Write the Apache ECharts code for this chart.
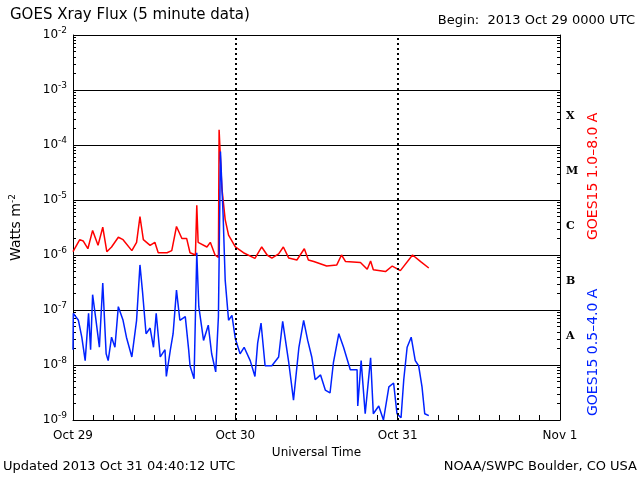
<!DOCTYPE html>
<html>
<head>
<meta charset="utf-8">
<script src="https://cdn.jsdelivr.net/npm/echarts@6/dist/echarts.min.js"></script>
<style>html,body{margin:0;padding:0;background:#fff}#chart{width:640px;height:480px}</style>
</head>
<body>
<div id="chart"></div>
<script>
// hours since 2013 Oct 29 00:00 UTC
var dayLabels = ["Oct 29", "Oct 30", "Oct 31", "Nov 1"];
var bandLetters = ["X", "M", "C", "B", "A"];

// GOES15 1.0-8.0 A (long channel)
var longHours = [0, 1, 1.5, 2.2, 2.9, 3.7, 4.4, 5, 5.7, 6.7, 7.4, 8.7, 9.4, 9.9, 10.4, 11.4, 12.1, 12.6, 13.9, 14.6, 15.3, 16.1, 16.8, 17.3, 18.1, 18.3, 18.5, 19.8, 20.3, 21, 21.5, 21.6, 22, 22.5, 23, 24, 25.2, 26.9, 27.9, 28.7, 29.4, 30.4, 31.1, 31.9, 33.1, 34.2, 34.8, 35.6, 37.5, 39, 39.7, 40.3, 42.5, 43.5, 44, 44.4, 46.2, 47.2, 48.4, 50.2, 51.4, 52.6];
var longFlux = [1.15e-6, 1.9e-6, 1.8e-6, 1.3e-6, 2.8e-6, 1.5e-6, 3.2e-6, 1.15e-6, 1.4e-6, 2.1e-6, 1.9e-6, 1.2e-6, 1.7e-6, 5e-6, 1.9e-6, 1.5e-6, 1.7e-6, 1.1e-6, 1.1e-6, 1.2e-6, 3.3e-6, 2e-6, 2e-6, 1.1e-6, 1e-6, 8e-6, 1.7e-6, 1.4e-6, 1.7e-6, 1e-6, 9e-7, 1.9e-4, 1.7e-5, 4.4e-6, 2.3e-6, 1.4e-6, 1.1e-6, 8.7e-7, 1.4e-6, 1e-6, 8.8e-7, 1.05e-6, 1.4e-6, 8.8e-7, 8.1e-7, 1.3e-6, 8.1e-7, 7.6e-7, 6.3e-7, 6.6e-7, 1e-6, 7.6e-7, 7.3e-7, 5.5e-7, 7.8e-7, 5.4e-7, 5e-7, 6.3e-7, 5.2e-7, 1e-6, 7.6e-7, 5.8e-7];

// GOES15 0.5-4.0 A (short channel)
var shortHours = [0, 0.05, 0.8, 1.3, 1.8, 2.3, 2.6, 2.9, 3.4, 3.9, 4.4, 4.9, 5.2, 5.7, 6.2, 6.7, 7.4, 7.9, 8.7, 9.4, 9.9, 10.3, 10.8, 11.4, 11.9, 12.3, 12.9, 13.6, 13.8, 14.4, 14.8, 15.3, 15.8, 16.6, 17.1, 17.3, 17.9, 18.3, 18.6, 19.3, 20, 20.5, 21.1, 21.5, 21.8, 22.2, 22.5, 23, 23.5, 24, 24.7, 25.3, 26.2, 26.9, 27.3, 27.8, 28.4, 29.4, 30.4, 31, 31.9, 32.6, 33.4, 34.1, 34.7, 35.3, 35.8, 36.6, 37.3, 38, 38.5, 39.3, 40, 41, 42, 42.1, 42.6, 43.2, 44, 44.4, 45.2, 45.9, 46.7, 47.4, 47.9, 48.5, 48.9, 49.4, 50, 50.6, 51.1, 51.6, 52, 52.6];
var shortFlux = [1.9e-8, 8.7e-8, 6.5e-8, 3.2e-8, 1.2e-8, 8.7e-8, 1.9e-8, 1.9e-7, 6.5e-8, 2.1e-8, 3.1e-7, 1.6e-8, 1.2e-8, 3.2e-8, 2.1e-8, 1.15e-7, 6.5e-8, 3.2e-8, 1.4e-8, 6.5e-8, 6.6e-7, 2e-7, 3.7e-8, 4.7e-8, 2.1e-8, 8.7e-8, 1.4e-8, 1.9e-8, 6.2e-9, 1.9e-8, 3.7e-8, 2.3e-7, 6.5e-8, 7.6e-8, 1.9e-8, 9.7e-9, 5.6e-9, 1.1e-6, 1.15e-7, 2.8e-8, 5.3e-8, 1.6e-8, 7.5e-9, 7.6e-8, 7.6e-5, 5e-6, 3.5e-7, 6.5e-8, 8e-8, 3e-8, 1.6e-8, 2.1e-8, 1.2e-8, 6.2e-9, 2.5e-8, 5.8e-8, 9.7e-9, 9.7e-9, 1.4e-8, 6.2e-8, 1.1e-8, 2.3e-9, 2.1e-8, 6.5e-8, 2.8e-8, 1.4e-8, 5.4e-9, 6.6e-9, 3.5e-9, 3.1e-9, 1.1e-8, 3.7e-8, 2.1e-8, 8.2e-9, 8.2e-9, 1.8e-9, 1.2e-8, 1.3e-9, 1.35e-8, 1.3e-9, 1.8e-9, 1e-9, 4e-9, 4.7e-9, 1.3e-9, 1.1e-9, 5.4e-9, 2.1e-8, 3.2e-8, 1.2e-8, 9.7e-9, 4e-9, 1.3e-9, 1.2e-9];

function pairs(xs, ys) {
  return xs.map(function (x, i) { return [x, ys[i]]; });
}

var myChart = echarts.init(document.getElementById("chart"));
var font = "DejaVu Sans";
var grid = { left: 73, right: 80, top: 35, bottom: 60 };
var plotH = 480 - grid.top - grid.bottom;

var letterTexts = bandLetters.map(function (t, i) {
  return {
    type: "text", left: 566, top: grid.top + plotH / 7 * (i + 1.5) - 7,
    style: { text: t, font: "bold 11px 'DejaVu Serif'", fill: "#000" }
  };
});

var option = {
  backgroundColor: "#fff",
  animation: false,
  grid: grid,
  xAxis: {
    type: "value", min: 0, max: 72, interval: 3,
    axisLine: { lineStyle: { color: "#000" } },
    axisTick: { inside: true, length: 5, lineStyle: { color: "#000" } },
    splitLine: { show: false },
    axisLabel: {
      color: "#000", fontFamily: font, fontSize: 12, margin: 10,
      formatter: function (v) { return v % 24 === 0 ? dayLabels[v / 24] : ""; }
    },
    name: "Universal Time", nameLocation: "middle", nameGap: 26,
    nameTextStyle: { color: "#000", fontFamily: font, fontSize: 12 }
  },
  yAxis: [{
    type: "log", min: 1e-9, max: 1e-2, logBase: 10,
    axisLine: { show: true, lineStyle: { color: "#000" } },
    axisTick: { inside: true, length: 6, lineStyle: { color: "#000" } },
    minorTick: { show: true, splitNumber: 9, length: 3, lineStyle: { color: "#000" } },
    splitLine: { show: true, lineStyle: { color: "#000", width: 1 } },
    axisLabel: {
      fontFamily: font, color: "#000", margin: 6,
      formatter: function (v) {
        var e = Math.round(Math.log10(v));
        return "{b|10}{s|" + e + "}";
      },
      rich: {
        b: { fontSize: 12, color: "#000", fontFamily: font },
        s: { fontSize: 9, color: "#000", fontFamily: font, verticalAlign: "top", padding: [0, 0, 8, 0] }
      }
    },
    name: "{n|Watts m}{e|-2}", nameLocation: "middle", nameGap: 48, nameRotate: 90,
    nameTextStyle: {
      rich: {
        n: { fontSize: 14, color: "#000", fontFamily: font },
        e: { fontSize: 9, color: "#000", fontFamily: font, padding: [0, 0, 8, 0] }
      }
    }
  }, {
    type: "log", min: 1e-9, max: 1e-2, logBase: 10, position: "right",
    axisLine: { show: true, lineStyle: { color: "#000" } },
    axisTick: { inside: true, length: 6, lineStyle: { color: "#000" } },
    minorTick: { show: true, splitNumber: 9, length: 3, lineStyle: { color: "#000" } },
    splitLine: { show: false },
    axisLabel: { show: false }
  }],
  series: [{
    type: "line", data: pairs(longHours, longFlux), showSymbol: false,
    lineStyle: { color: "#ff0000", width: 1.5 }, itemStyle: { color: "#ff0000" },
    markLine: {
      silent: true, symbol: "none", label: { show: false },
      lineStyle: { color: "#000", type: [2, 3], width: 2 },
      data: [{ xAxis: 24 }, { xAxis: 48 }]
    }
  }, {
    type: "line", data: pairs(shortHours, shortFlux), showSymbol: false,
    lineStyle: { color: "#0022ff", width: 1.5 }, itemStyle: { color: "#0022ff" }
  }],
  graphic: [
    { type: "text", left: 10, top: 8, style: { text: "GOES Xray Flux (5 minute data)", font: "15px " + font, fill: "#000" } },
    { type: "text", right: 5, top: 14, style: { text: "Begin:  2013 Oct 29 0000 UTC", font: "13px " + font, fill: "#000" } },
    { type: "text", left: 3, top: 460, style: { text: "Updated 2013 Oct 31 04:40:12 UTC", font: "13px " + font, fill: "#000" } },
    { type: "text", right: 3, top: 460, style: { text: "NOAA/SWPC Boulder, CO USA", font: "13px " + font, fill: "#000" } },
    { type: "text", x: 593, y: 240, rotation: Math.PI / 2, style: { text: "GOES15 1.0\u20138.0 A", font: "14px " + font, fill: "#ff0000", textAlign: "left", textVerticalAlign: "middle" } },
    { type: "text", x: 593, y: 416, rotation: Math.PI / 2, style: { text: "GOES15 0.5\u20134.0 A", font: "14px " + font, fill: "#0022ff", textAlign: "left", textVerticalAlign: "middle" } }
  ].concat(letterTexts)
};
myChart.setOption(option);
</script>
</body>
</html>
